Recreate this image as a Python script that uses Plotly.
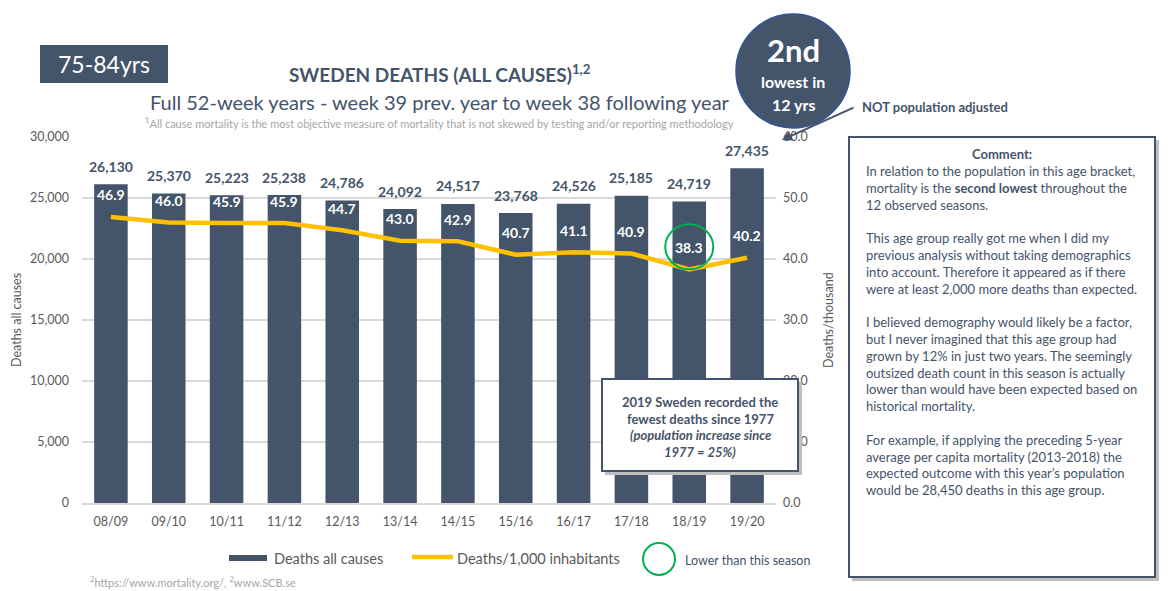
import plotly.graph_objects as go

# ---------------- data ----------------
seasons = ["08/09", "09/10", "10/11", "11/12", "12/13", "13/14",
           "14/15", "15/16", "16/17", "17/18", "18/19", "19/20"]
deaths = [26130, 25370, 25223, 25238, 24786, 24092,
          24517, 23768, 24526, 25185, 24719, 27435]
per_thousand = [46.9, 46.0, 45.9, 45.9, 44.7, 43.0,
                42.9, 40.7, 41.1, 40.9, 38.3, 40.2]
highlight_season = "18/19"

# ---------------- style ----------------
PAGE_W, PAGE_H = 1170, 591
OFF = 8                           # default page margin around the figure
W, H = PAGE_W - OFF, PAGE_H - OFF
L, R, T, B = 82, 776, 137, 503    # plot area in page pixels
DARK = "#44546A"
GOLD = "#FFC000"
GREEN = "#00B050"
GREY = "#595959"
LIGHT = "#A6A6A6"
GRID = "#D9D9D9"
FONT = "Lato"


def px(x):
    return (x - L) / (R - L)


def py(y):
    return (B - y) / (B - T)


def note(x, y, text, size, color=DARK, xanchor="center", **kw):
    return dict(x=px(x), y=py(y), xref="paper", yref="paper", text=text,
                showarrow=False, xanchor=xanchor, yanchor="middle",
                font=dict(family=FONT, size=size, color=color), **kw)


fig = go.Figure()

fig.add_trace(go.Bar(
    x=seasons, y=deaths, name="Deaths all causes",
    marker=dict(color=DARK, line=dict(width=0)),
    hoverinfo="x+y", showlegend=False,
))
fig.add_trace(go.Scatter(
    x=seasons, y=per_thousand, name="Deaths/1,000 inhabitants",
    yaxis="y2", mode="lines", line=dict(color=GOLD, width=4.5),
    showlegend=False,
))

annotations = []
shapes = []

# value labels
for s, d in zip(seasons, deaths):
    annotations.append(dict(
        x=s, y=d, xref="x", yref="y", text=f"<b>{d:,}</b>",
        showarrow=False, xanchor="center", yanchor="middle", yshift=18,
        font=dict(family=FONT, size=14, color=DARK)))
for s, v in zip(seasons, per_thousand):
    annotations.append(dict(
        x=s, y=v, xref="x", yref="y2", text=f"<b>{v:.1f}</b>",
        showarrow=False, xanchor="center", yanchor="middle", yshift=22,
        font=dict(family=FONT, size=14, color="white")))

# green circle around highlighted season
hi_idx = seasons.index(highlight_season)
shapes.append(dict(
    type="circle", xref="x", yref="y2",
    xsizemode="pixel", ysizemode="pixel",
    xanchor=hi_idx, yanchor=per_thousand[hi_idx],
    x0=-24, x1=24, y0=0, y1=45,
    line=dict(color=GREEN, width=2), layer="above"))

# age box
shapes.append(dict(type="rect", xref="paper", yref="paper",
                   x0=px(40), x1=px(168), y0=py(83), y1=py(45),
                   fillcolor=DARK, line=dict(width=0), layer="above"))
annotations.append(note(104, 64, "75-84yrs", 23, "white"))

# titles
annotations.append(note(440, 73, "<b>SWEDEN DEATHS (ALL CAUSES)</b><sup><b>1,2</b></sup>", 19))
annotations.append(note(440, 102, "Full 52-week years - week 39 prev. year to week 38 following year", 20))
annotations.append(note(440, 123, "<sup>1</sup>All cause mortality is the most objective measure of mortality that is not skewed by testing and/or reporting methodology", 11, LIGHT))

# circle badge
shapes.append(dict(type="circle", xref="paper", yref="paper",
                   x0=px(736), x1=px(850), y0=py(128), y1=py(14),
                   fillcolor=DARK, line=dict(color="#2F5597", width=1.5),
                   layer="above"))
annotations.append(note(793, 50, "<b>2nd</b>", 31, "white"))
annotations.append(note(793, 82, "<b>lowest in</b>", 16, "white"))
annotations.append(note(793, 104, "<b>12 yrs</b>", 16, "white"))

# NOT population adjusted + arrow
annotations.append(note(860, 107, "<b>NOT population adjusted</b>", 13, xanchor="left"))
annotations.append(dict(x=px(782), y=py(140), xref="paper", yref="paper",
                        text="", showarrow=True, ax=73, ay=-33,
                        arrowhead=2, arrowsize=1, arrowwidth=2,
                        arrowcolor=DARK))

# comment box
shapes.append(dict(type="rect", xref="paper", yref="paper",
                   x0=px(852), x1=px(1159), y0=py(581), y1=py(140),
                   fillcolor="#BFBFBF", line=dict(width=0), layer="above"))
shapes.append(dict(type="rect", xref="paper", yref="paper",
                   x0=px(849), x1=px(1155), y0=py(577), y1=py(137),
                   fillcolor="white", line=dict(color=DARK, width=2),
                   layer="above"))
annotations.append(note(1002, 154, "<b>Comment:</b>", 13))
comment_lines = [
    "In relation to the population in this age bracket,",
    "mortality is the <b>second lowest</b> throughout the",
    "12 observed seasons.",
    "",
    "This age group really got me when I did my",
    "previous analysis without taking demographics",
    "into account. Therefore it appeared as if there",
    "were at least 2,000 more deaths than expected.",
    "",
    "I believed demography would likely be a factor,",
    "but I never imagined that this age group had",
    "grown by 12% in just two years. The seemingly",
    "outsized death count in this season is actually",
    "lower than would have been expected based on",
    "historical mortality.",
    "",
    "For example, if applying the preceding 5-year",
    "average per capita mortality (2013-2018) the",
    "expected outcome with this year\u2019s population",
    "would be 28,450 deaths in this age group.",
]
for i, line in enumerate(comment_lines):
    if line:
        annotations.append(note(864, 171 + i * 16.8, line, 13, xanchor="left"))

# 2019 box
shapes.append(dict(type="rect", xref="paper", yref="paper",
                   x0=px(605), x1=px(802), y0=py(475), y1=py(382),
                   fillcolor="#BFBFBF", line=dict(width=0), layer="above"))
shapes.append(dict(type="rect", xref="paper", yref="paper",
                   x0=px(602), x1=px(798), y0=py(471), y1=py(379),
                   fillcolor="white", line=dict(color=DARK, width=2),
                   layer="above"))
box2 = ["<b>2019 Sweden recorded the</b>", "<b>fewest deaths since 1977</b>",
        "<b><i>(population increase since</i></b>", "<b><i>1977 = 25%)</i></b>"]
for i, line in enumerate(box2):
    annotations.append(note(700, 402 + i * 16.5, line, 13))

# axis titles
annotations.append(note(16, 320, "Deaths all causes", 12.5, GREY, textangle=-90))
annotations.append(note(828, 320, "Deaths/thousand", 12.5, GREY, textangle=-90))

# custom legend
shapes.append(dict(type="rect", xref="paper", yref="paper",
                   x0=px(229), x1=px(267), y0=py(561), y1=py(555),
                   fillcolor=DARK, line=dict(width=0)))
annotations.append(note(272, 558, "Deaths all causes", 14.5, GREY, xanchor="left"))
shapes.append(dict(type="line", xref="paper", yref="paper",
                   x0=px(412), x1=px(453), y0=py(557), y1=py(557),
                   line=dict(color=GOLD, width=4.5)))
annotations.append(note(455, 558, "Deaths/1,000 inhabitants", 14.5, GREY, xanchor="left"))
shapes.append(dict(type="circle", xref="paper", yref="paper",
                   x0=px(643), x1=px(675), y0=py(575), y1=py(543),
                   line=dict(color=GREEN, width=2)))
annotations.append(note(683, 560, "Lower than this season", 12.5, DARK, xanchor="left"))

# sources
annotations.append(note(88, 581, "<sup>2</sup>https://www.mortality.org/, <sup>2</sup>www.SCB.se",
                        11, LIGHT, xanchor="left"))

fig.update_layout(
    width=W, height=H,
    margin=dict(l=L - OFF, r=PAGE_W - R, t=T - OFF, b=PAGE_H - B, pad=0),
    paper_bgcolor="white", plot_bgcolor="white",
    bargap=0.42,
    showlegend=False,
    font=dict(family=FONT, size=12, color=GREY),
    xaxis=dict(type="category", showgrid=False, showline=True,
               linecolor=GRID, linewidth=1.5, ticks="",
               tickfont=dict(family=FONT, size=12.5, color=GREY),
               ticklabelstandoff=6),
    yaxis=dict(range=[0, 30000], dtick=5000, tickformat=",",
               showgrid=True, gridcolor=GRID, gridwidth=1.5,
               zeroline=False, showline=False, ticks="",
               tickfont=dict(family=FONT, size=12.5, color=GREY),
               ticklabelstandoff=12),
    yaxis2=dict(range=[0, 60], dtick=10, tickformat=".1f",
                overlaying="y", side="right", showgrid=False,
                zeroline=False, showline=False, ticks="",
                tickfont=dict(family=FONT, size=12.5, color=GREY),
                ticklabelstandoff=6),
    annotations=annotations,
    shapes=shapes,
)

fig.write_html("out.html")
